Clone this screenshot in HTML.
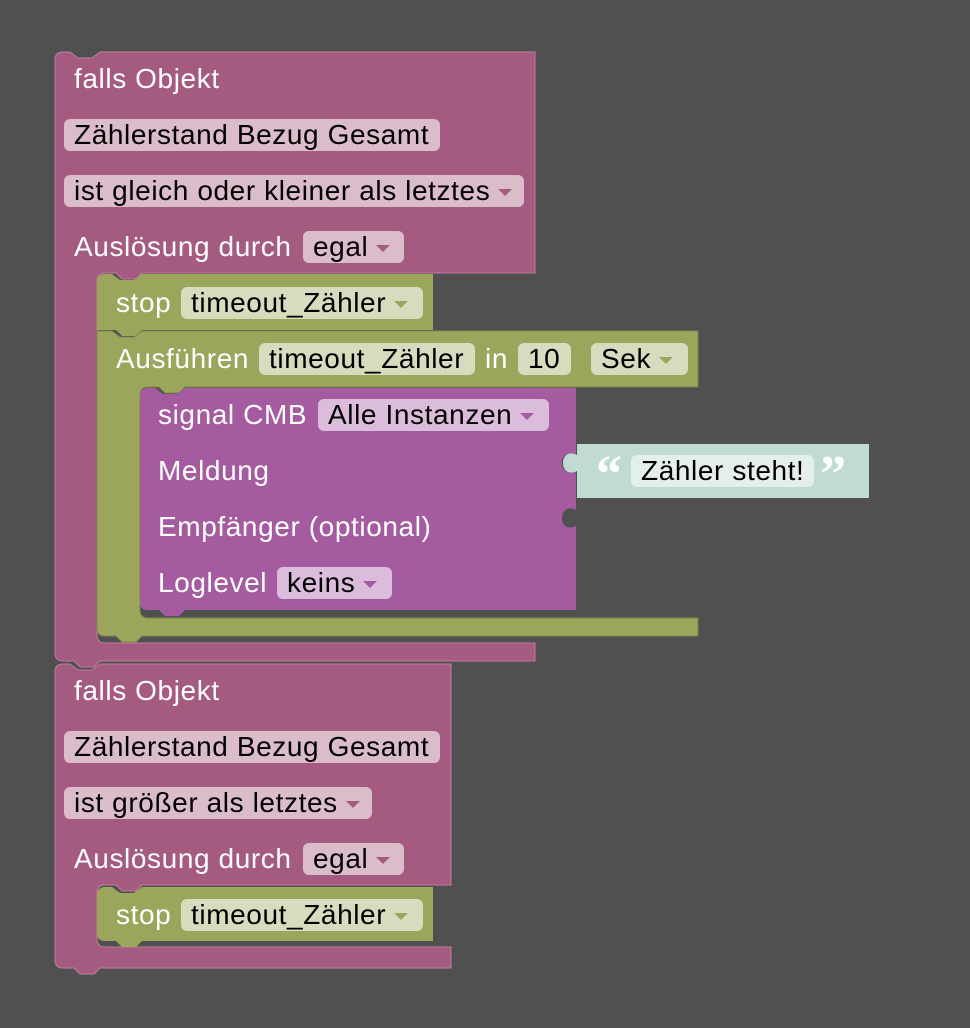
<!DOCTYPE html>
<html><head><meta charset="utf-8"><style>
body{margin:0;width:970px;height:1028px;background:#505050;overflow:hidden;position:relative;font-family:"Liberation Sans",Helvetica,Arial,sans-serif}
svg{position:absolute;left:0;top:0}
.t{position:absolute;font-size:28px;letter-spacing:0.6px;line-height:32px;height:32px;color:#fff;white-space:nowrap}
.f{position:absolute;font-size:28px;letter-spacing:0.6px;line-height:32px;height:32px;color:#000;white-space:nowrap;border-radius:6px;padding:0 10px;box-sizing:border-box}
.p{background:#dbbccb}.g{background:#d7dcbf}.v{background:#dbbcdb}.w{background:#e4efeb}
.dd::after{content:"";display:inline-block;margin-left:8px;vertical-align:middle;border-left:7px solid transparent;border-right:7px solid transparent;border-top:7px solid #a55b80}
.g.dd::after{border-top-color:#9ba55b}.v.dd::after{border-top-color:#a55ba0}
</style></head><body>
<svg width="970" height="1028">
<path d="M55,60 Q55,52 63,52 H70 l8,6 h14 l8,-6 H535 V273 H142 l-6,6 h-14 l-6,-6 H105 Q97,273 97,281 V635 Q97,643 105,643 H535 V661 H100 l-6,6 h-14 l-6,-6 H63 Q55,661 55,653 Z" fill="#a55b80" stroke="#c07da0" stroke-width="1"/>
<path d="M55,672 Q55,664 63,664 H70 l8,6 h14 l8,-6 H451 V885 H142 l-6,6 h-14 l-6,-6 H105 Q97,885 97,893 V939 Q97,947 105,947 H451 V968 H100 l-6,6 h-14 l-6,-6 H63 Q55,968 55,960 Z" fill="#a55b80" stroke="#c07da0" stroke-width="1"/>
<path d="M97,282 Q97,274 105,274 H112 l8,6 h14 l8,-6 H433 V330 H142 l-6,6 h-14 l-6,-6 H97 Z" fill="#9ba55b"/>
<path d="M97,331 H112 l8,6 h14 l8,-6 H698 V387 H185 l-6,6 h-14 l-6,-6 H148 Q140,387 140,395 V610 Q140,618 148,618 H698 V636 H142 l-6,6 h-14 l-6,-6 H105 Q97,636 97,628 Z" fill="#9ba55b" stroke="#7f8848" stroke-width="1"/>
<path d="M140,396 Q140,388 148,388 H155 l8,6 h14 l8,-6 H576 V455 c-8,-4 -14,0 -14,8 s6,12 14,8 V510 c-8,-4 -14,0 -14,8 s6,12 14,8 V610 H185 l-6,6 h-14 l-6,-6 H148 Q140,610 140,602 Z" fill="#a55ba0"/>
<path d="M577,444 H869 V498 H577 V471 c-8,4 -14,0 -14,-8 s6,-12 14,-8 Z" fill="#bfdbd3"/>
<path d="M97,895 Q97,887 105,887 H112 l8,6 h14 l8,-6 H433 V941 H142 l-6,6 h-14 l-6,-6 H105 Q97,941 97,933 Z" fill="#9ba55b"/>
<text x="596" y="491" font-family="Liberation Serif,serif" font-size="52" font-weight="bold" fill="#fff">“</text>
<text x="820" y="491" font-family="Liberation Serif,serif" font-size="52" font-weight="bold" fill="#fff">”</text>
</svg>

<div class="t" style="left:74px;top:63px">falls Objekt</div>
<div class="f p" style="left:64px;top:119px;width:376px">Zählerstand Bezug Gesamt</div>
<div class="f p dd" style="left:64px;top:175px;width:460px">ist gleich oder kleiner als letztes</div>
<div class="t" style="left:74px;top:231px">Auslösung durch</div>
<div class="f p dd" style="left:303px;top:231px;width:101px">egal</div>

<div class="t" style="left:116px;top:287px">stop</div>
<div class="f g dd" style="left:181px;top:287px;width:242px">timeout_Zähler</div>

<div class="t" style="left:116px;top:343px">Ausführen</div>
<div class="f g" style="left:259px;top:343px;width:216px">timeout_Zähler</div>
<div class="t" style="left:485px;top:343px">in</div>
<div class="f g" style="left:518px;top:343px;width:53px">10</div>
<div class="f g dd" style="left:591px;top:343px;width:97px">Sek</div>

<div class="t" style="left:158px;top:399px">signal CMB</div>
<div class="f v dd" style="left:318px;top:399px;width:231px">Alle Instanzen</div>
<div class="t" style="left:158px;top:455px">Meldung</div>
<div class="f w" style="left:631px;top:455px;width:183px">Zähler steht!</div>
<div class="t" style="left:158px;top:511px">Empfänger (optional)</div>
<div class="t" style="left:158px;top:567px">Loglevel</div>
<div class="f v dd" style="left:277px;top:567px;width:115px">keins</div>

<div class="t" style="left:74px;top:675px">falls Objekt</div>
<div class="f p" style="left:64px;top:731px;width:376px">Zählerstand Bezug Gesamt</div>
<div class="f p dd" style="left:64px;top:787px;width:308px">ist größer als letztes</div>
<div class="t" style="left:74px;top:843px">Auslösung durch</div>
<div class="f p dd" style="left:303px;top:843px;width:101px">egal</div>
<div class="t" style="left:116px;top:899px">stop</div>
<div class="f g dd" style="left:181px;top:899px;width:242px">timeout_Zähler</div>
</body></html>
